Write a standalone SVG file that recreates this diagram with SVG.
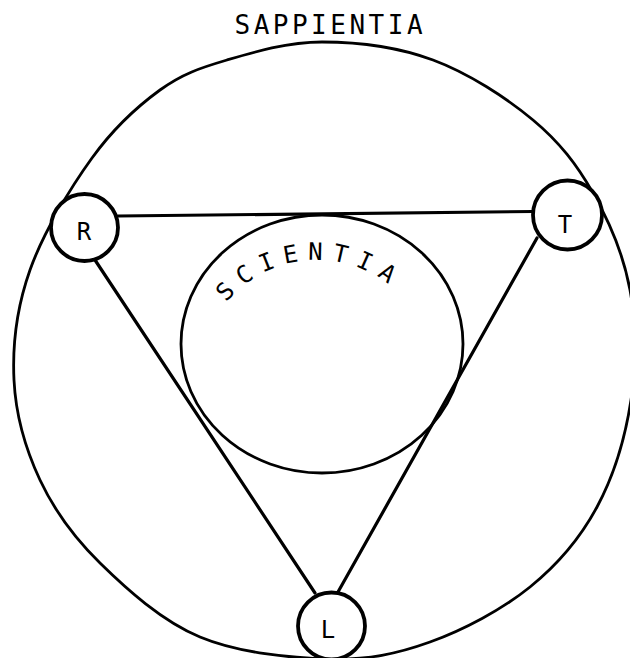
<svg xmlns="http://www.w3.org/2000/svg" width="630" height="658" viewBox="0 0 630 658">
<style>
.ring{fill:none;stroke:#000;stroke-width:2.8}
.node{fill:#fff;stroke:#000;stroke-width:3.8}
.edge{fill:none;stroke:#000;stroke-width:3.2;stroke-linecap:round}
.lbl{font-family:"DejaVu Sans Mono","Liberation Mono",monospace;fill:#000}
</style>
<rect width="630" height="658" fill="#fff"/>
<g id="sapientia">
<path class="ring" d="M322,42 C356.3,42 397.8,47 433,60 C468.2,73 506.3,97.8 533,120 C559.7,142.2 576.8,164.7 593,193 C609.2,221.3 623.7,255.5 630,290 C636.3,324.5 636.5,363.8 631,400 C625.5,436.2 613.8,475.8 597,507 C580.2,538.2 557.8,564.5 530,587 C502.2,609.5 463.3,630 430,642 C396.7,654 368.3,659.8 330,659 C291.7,658.2 238.3,653 200,637 C161.7,621 126.7,589.2 100,563 C73.3,536.8 54.3,510.5 40,480 C25.7,449.5 15.7,415 14,380 C12.3,345 16.8,307.2 30,270 C43.2,232.8 70.3,188 92,158 C113.7,128 137.7,106.2 160,90 C182.3,73.8 200,68 227,60 C254,52 287.7,42 322,42 Z"/>
<text class="lbl" x="234.5" y="34" font-size="26" letter-spacing="3.5">SAPPIENTIA</text>
</g>
<g id="scientia">
<ellipse class="ring" cx="322" cy="344" rx="141" ry="129"/>
<path id="arcS" d="M214.8,319 A118,118 0 0 1 419.2,319" fill="none"/>
<text class="lbl" font-size="24" letter-spacing="9.2"><textPath href="#arcS" startOffset="20">SCIENTIA</textPath></text>
</g>
<g id="connectors">
<line class="edge" x1="118" y1="216" x2="533" y2="211.5"/>
<line class="edge" x1="95" y1="260" x2="315" y2="593"/>
<line class="edge" x1="537" y1="238" x2="338" y2="592"/>
</g>
<g id="node-R">
<circle class="node" cx="84.5" cy="227.5" r="33.5"/>
<text class="lbl" x="84" y="239.5" font-size="24" text-anchor="middle">R</text>
</g>
<g id="node-T">
<circle class="node" cx="567.5" cy="215" r="34.5"/>
<text class="lbl" x="565" y="232.5" font-size="24" text-anchor="middle">T</text>
</g>
<g id="node-L">
<circle class="node" cx="331.5" cy="626" r="33.5"/>
<text class="lbl" x="328" y="638" font-size="24" text-anchor="middle">L</text>
</g>
</svg>
